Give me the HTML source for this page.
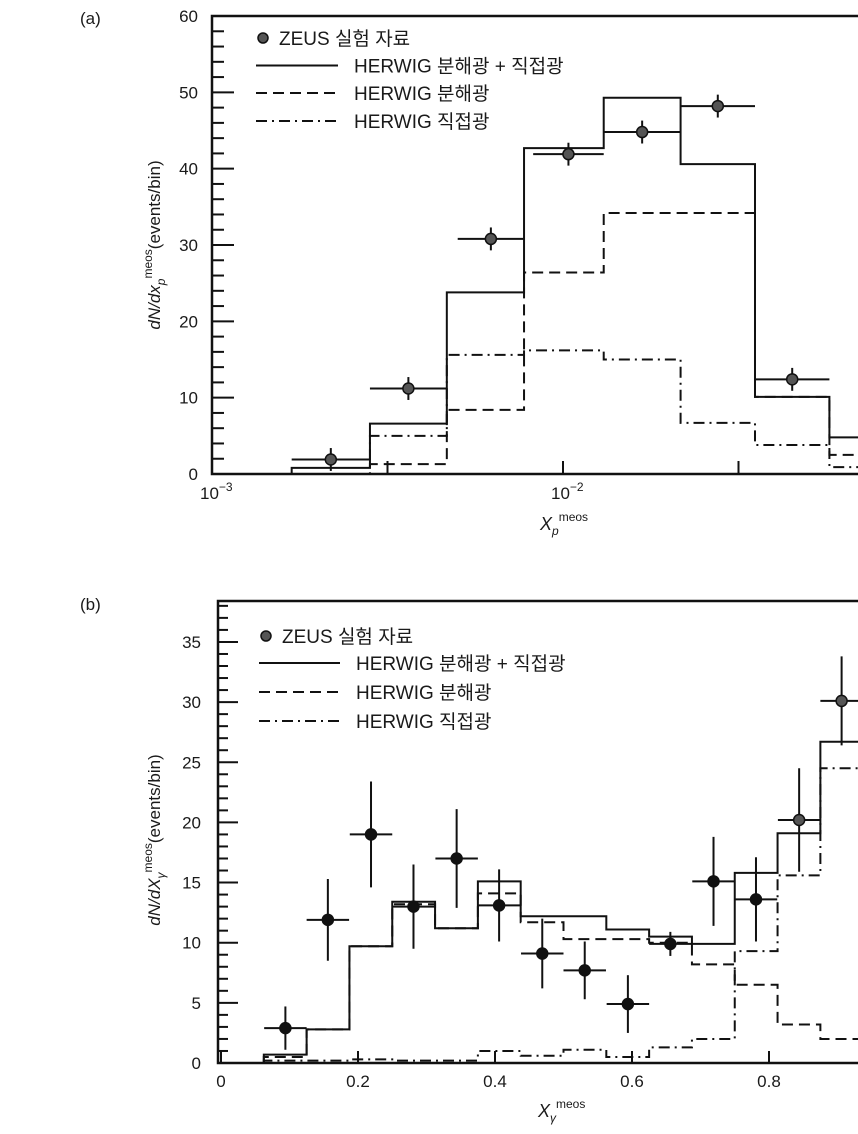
<!DOCTYPE html>
<html><head><meta charset="utf-8"><style>
body{margin:0;background:#fff}
svg text{font-family:"Liberation Sans","Noto Sans CJK KR",sans-serif;fill:#1a1a1a}
</style></head><body>
<svg id="svg" width="858" height="1129" viewBox="0 0 858 1129" xmlns="http://www.w3.org/2000/svg">
<text x="80" y="24" font-size="17">(a)</text>
<text x="80" y="610" font-size="17">(b)</text>
<g id="pa"></g>
<g id="pb"></g>
</svg>
<script>
// ---- Panel (a) data (log10 x) ----
const aEdges = [-2.773,-2.55,-2.331,-2.111,-1.884,-1.665,-1.453,-1.241,-1.02];
const aSolid = [0.8,6.6,23.8,42.7,49.3,40.6,10.1,4.8];
const aDashed = [0,1.3,8.4,26.4,34.2,34.2,10.1,2.5];
const aDashDot = [0,5.0,15.6,16.2,15.0,6.7,3.8,0.9];
const aPtLo = [-2.773,-2.55,-2.30,-2.085,-1.884,-1.665,-1.453];
const aPtHi = [-2.55,-2.331,-2.111,-1.884,-1.665,-1.453,-1.241];
const aPtY = [1.9,11.2,30.8,41.9,44.8,48.2,12.4];
const aPtErr = [1.5,1.5,1.5,1.5,1.5,1.5,1.5];
const aYTicks = [0,10,20,30,40,50,60];

// ---- Panel (b) data ----
const bEdges = [0.0625,0.125,0.1875,0.25,0.3125,0.375,0.4375,0.5,0.5625,0.625,0.6875,0.75,0.8125,0.875,0.9375];
const bSolid = [0.7,2.8,9.7,13.4,11.2,15.1,12.2,12.2,11.1,10.5,9.9,15.8,19.1,26.7];
const bDashed = [0.5,2.8,9.7,13.2,11.2,14.1,11.7,10.3,10.3,10.0,8.2,6.5,3.2,2.0];
const bDashDot = [0.2,0.2,0.3,0.2,0.2,1.0,0.6,1.1,0.5,1.3,2.0,9.3,15.6,24.5];
const bPtX = [0.094,0.156,0.219,0.281,0.344,0.406,0.469,0.531,0.594,0.656,0.719,0.781,0.844,0.906];
const bPtY = [2.9,11.9,19.0,13.0,17.0,13.1,9.1,7.7,4.9,9.9,15.1,13.6,20.2,30.1];
const bPtErr = [1.8,3.4,4.4,3.5,4.1,3.0,2.9,2.4,2.4,1.0,3.7,3.5,4.3,3.7];
const bYTicks = [0,5,10,15,20,25,30,35];
const bXTicks = [0,0.2,0.4,0.6,0.8];
const bXLabels = ["0","0.2","0.4","0.6","0.8"];

const NS="http://www.w3.org/2000/svg";
function mk(parent,tag,attrs){const e=document.createElementNS(NS,tag);for(const k in attrs)e.setAttribute(k,attrs[k]);parent.appendChild(e);return e;}
const DASH={solid:"",dashed:"11,6",dashdot:"11,5,2,5"};

function hist(g,edges,vals,sx,sy,style,name){
  let d="M"+sx(edges[0])+","+sy(0)+" V"+sy(vals[0]);
  for(let i=0;i<vals.length;i++){d+=" H"+sx(edges[i+1]);if(i+1<vals.length)d+=" V"+sy(vals[i+1]);}
  const p=mk(g,"path",{d:d,fill:"none",stroke:"#111","stroke-width":"2","stroke-dasharray":DASH[style]});
  
  
}
function point(g,cx,cy,x1,x2,y1,y2,fill){
  const gg=mk(g,"g",{});
  
  
  mk(gg,"line",{x1:x1,x2:x2,y1:cy,y2:cy,stroke:"#111","stroke-width":"2"});
  mk(gg,"line",{x1:cx,x2:cx,y1:y1,y2:y2,stroke:"#111","stroke-width":"2"});
  mk(gg,"circle",{cx:cx,cy:cy,r:5.5,fill:fill,stroke:"#111","stroke-width":"1.5"});
}
function legend(g,mx,my,lx1,lx2,tx,ys){
  const lg=mk(g,"g",{});
  
  
  mk(lg,"circle",{cx:mx,cy:my,r:5,fill:"#555",stroke:"#111","stroke-width":"1.5"});
  let t=mk(lg,"text",{x:mx+16,y:my+7,"font-size":"19"});t.textContent="ZEUS 실험 자료";
  const labs=["HERWIG 분해광 + 직접광","HERWIG 분해광","HERWIG 직접광"];
  const st=["solid","dashed","dashdot"];
  for(let i=0;i<3;i++){
    mk(lg,"line",{x1:lx1,x2:lx2,y1:ys[i],y2:ys[i],stroke:"#111","stroke-width":"2","stroke-dasharray":DASH[st[i]]});
    t=mk(lg,"text",{x:tx,y:ys[i]+7,"font-size":"19"});t.textContent=labs[i];
  }
}

// ---- Panel (a) ----
(function(){
  const g=document.getElementById("pa");
  const L=212,T=16,B=474,R=900;
  const sx=v=>L+(v+3)*351;
  const sy=v=>B-v*7.633;
  hist(g,aEdges,aDashDot,sx,sy,"dashdot","histogram-direct");
  hist(g,aEdges,aDashed,sx,sy,"dashed","histogram-resolved");
  hist(g,aEdges,aSolid,sx,sy,"solid","histogram-total");
  for(let i=0;i<aPtY.length;i++){
    const c=(aPtLo[i]+aPtHi[i])/2;
    point(g,sx(c),sy(aPtY[i]),sx(aPtLo[i]),sx(aPtHi[i]),sy(aPtY[i]+aPtErr[i]),sy(aPtY[i]-aPtErr[i]),"#555");
  }
  mk(g,"rect",{x:L,y:T,width:R-L,height:B-T,fill:"none",stroke:"#111","stroke-width":"2.5"});
  for(let v=0;v<=60;v+=2){const maj=v%10==0;mk(g,"line",{x1:L,x2:L+(maj?22:12),y1:sy(v),y2:sy(v),stroke:"#111","stroke-width":"2"});}
  aYTicks.forEach(v=>{const t=mk(g,"text",{x:L-14,y:sy(v)+6,"font-size":"17","text-anchor":"end"});t.textContent=v;});
  [-2.5,-2,-1.5].forEach(v=>mk(g,"line",{x1:sx(v),x2:sx(v),y1:B,y2:B-13,stroke:"#111","stroke-width":"2"}));
  [[-3,"10","−3"],[-2,"10","−2"]].forEach(a=>{const t=mk(g,"text",{x:sx(a[0])-12,y:B+25,"font-size":"17"});t.textContent=a[1];const s=mk(t,"tspan",{dy:"-8","font-size":"12"});s.textContent=a[2];});
  let t=mk(g,"text",{x:540,y:530,"font-size":"18","font-style":"italic"});t.textContent="X";
  let s=mk(t,"tspan",{dy:"5","font-size":"12"});s.textContent="p";
  s=mk(t,"tspan",{dy:"-14","font-size":"12","font-style":"normal"});s.textContent="meos";
  t=mk(g,"text",{transform:"translate(160,245) rotate(-90)","text-anchor":"middle","font-size":"17"});
  s=mk(t,"tspan",{"font-style":"italic"});s.textContent="dN/dx";
  s=mk(t,"tspan",{dy:"5","font-size":"12","font-style":"italic"});s.textContent="p";
  s=mk(t,"tspan",{dy:"-13","font-size":"12"});s.textContent="meos";
  s=mk(t,"tspan",{dy:"8"});s.textContent="(events/bin)";
  legend(g,263,38,256,338,354,[65.5,93,121]);
})();

// ---- Panel (b) ----
(function(){
  const g=document.getElementById("pb");
  const L=218,T=601,B=1063,R=900;
  const sx=v=>221+v*685;
  const sy=v=>B-v*12.03;
  hist(g,bEdges,bDashDot,sx,sy,"dashdot","histogram-direct");
  hist(g,bEdges,bDashed,sx,sy,"dashed","histogram-resolved");
  hist(g,bEdges,bSolid,sx,sy,"solid","histogram-total");
  for(let i=0;i<bPtY.length;i++){
    point(g,sx(bPtX[i]),sy(bPtY[i]),sx(bPtX[i]-0.031),sx(bPtX[i]+0.031),sy(bPtY[i]+bPtErr[i]),sy(bPtY[i]-bPtErr[i]),i>=12?"#555":"#111");
  }
  mk(g,"rect",{x:L,y:T,width:R-L,height:B-T,fill:"none",stroke:"#111","stroke-width":"2.5"});
  for(let v=0;v<=38;v+=1){const maj=v%5==0;mk(g,"line",{x1:L,x2:L+(maj?20:10),y1:sy(v),y2:sy(v),stroke:"#111","stroke-width":"2"});}
  bYTicks.forEach(v=>{const t=mk(g,"text",{x:L-17,y:sy(v)+6,"font-size":"17","text-anchor":"end"});t.textContent=v;});
  bXTicks.forEach((v,i)=>{mk(g,"line",{x1:sx(v),x2:sx(v),y1:B,y2:B-12,stroke:"#111","stroke-width":"2"});
    const t=mk(g,"text",{x:sx(v),y:B+24,"font-size":"17","text-anchor":"middle"});t.textContent=bXLabels[i];});
  let t=mk(g,"text",{x:538,y:1117,"font-size":"18","font-style":"italic"});t.textContent="X";
  let s=mk(t,"tspan",{dy:"5","font-size":"12"});s.textContent="γ";
  s=mk(t,"tspan",{dy:"-14","font-size":"12","font-style":"normal"});s.textContent="meos";
  t=mk(g,"text",{transform:"translate(160,840) rotate(-90)","text-anchor":"middle","font-size":"17"});
  s=mk(t,"tspan",{"font-style":"italic"});s.textContent="dN/dX";
  s=mk(t,"tspan",{dy:"5","font-size":"12","font-style":"italic"});s.textContent="γ";
  s=mk(t,"tspan",{dy:"-13","font-size":"12"});s.textContent="meos";
  s=mk(t,"tspan",{dy:"8"});s.textContent="(events/bin)";
  legend(g,266,636,259,340,356,[663,692,721]);
})();
</script>
</body></html>
